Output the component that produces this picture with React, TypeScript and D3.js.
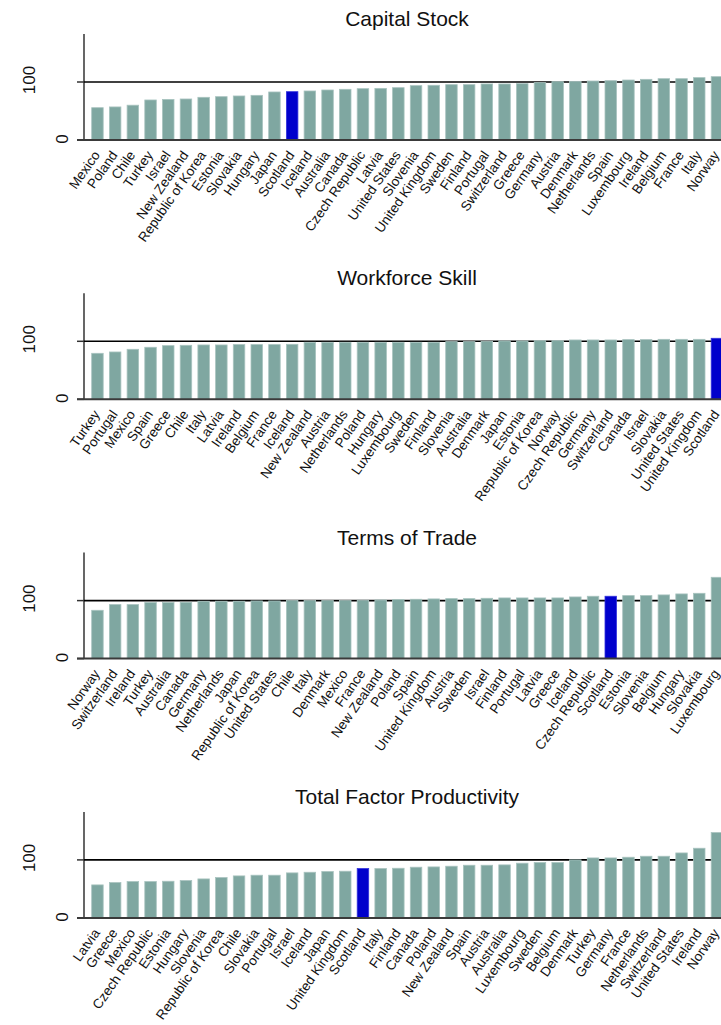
import React from "react";
import * as d3 from "d3";

const capitalCountries = ["Mexico","Poland","Chile","Turkey","Israel","New Zealand","Republic of Korea","Estonia","Slovakia","Hungary","Japan","Scotland","Iceland","Australia","Canada","Czech Republic","Latvia","United States","Slovenia","United Kingdom","Sweden","Finland","Portugal","Switzerland","Greece","Germany","Austria","Denmark","Netherlands","Spain","Luxembourg","Ireland","Belgium","France","Italy","Norway"];
const capitalValues = [55.7,57,60,69,70,70.7,73.6,74.7,75.9,77,82.8,83.3,84.5,86.2,87.4,88.5,89,90.2,93.7,94.3,95.4,95.4,96.6,96.6,97.1,98.9,100.6,101.1,101.7,102.3,103.4,104.6,105.7,105.7,107.5,109.2];

const skillCountries = ["Turkey","Portugal","Mexico","Spain","Greece","Chile","Italy","Latvia","Ireland","Belgium","France","Iceland","New Zealand","Austria","Netherlands","Poland","Hungary","Luxembourg","Sweden","Finland","Slovenia","Australia","Denmark","Japan","Estonia","Republic of Korea","Norway","Czech Republic","Germany","Switzerland","Canada","Israel","Slovakia","United States","United Kingdom","Scotland"];
const skillValues = [79.3,81.6,86.2,89.7,92.5,93.1,93.7,93.7,94.3,94.3,94.3,94.8,98.3,98.3,98.3,98.3,98.3,98.3,98.3,98.3,99.4,99.4,100,100.6,100.6,101.1,101.1,102.3,102.3,102.3,102.9,102.9,103.4,103.4,103.4,105.2];

const tradeCountries = ["Norway","Switzerland","Ireland","Turkey","Australia","Canada","Germany","Netherlands","Japan","Republic of Korea","United States","Chile","Italy","Denmark","Mexico","France","New Zealand","Poland","Spain","United Kingdom","Austria","Sweden","Israel","Finland","Portugal","Latvia","Greece","Iceland","Czech Republic","Scotland","Estonia","Slovenia","Belgium","Hungary","Slovakia","Luxembourg"];
const tradeValues = [83.3,93.1,93.1,96.6,96.6,97.1,98.9,98.9,98.9,99.4,99.4,100,100,100,100,100.6,101.1,101.7,102.3,102.9,103.4,103.4,104,104.6,104.6,104.6,104.6,106.3,107.5,107.5,108.6,108.6,109.8,111.5,112.6,140.2];

const tfpCountries = ["Latvia","Greece","Mexico","Czech Republic","Estonia","Hungary","Slovenia","Republic of Korea","Chile","Slovakia","Portugal","Israel","Iceland","Japan","United Kingdom","Scotland","Italy","Finland","Canada","Poland","New Zealand","Spain","Austria","Australia","Luxembourg","Sweden","Belgium","Denmark","Turkey","Germany","France","Netherlands","Switzerland","United States","Ireland","Norway"];
const tfpValues = [56.9,60.9,62.6,62.6,63.2,64.4,67.2,69.5,72.4,73.6,73.6,77.6,78.7,79.9,80.5,85.1,85.1,85.6,87.4,87.9,89.1,90.8,90.8,91.4,94.3,95.4,95.4,100,103.4,103.4,104.6,106.3,106.3,112,120.1,147.1];

const panelTitles = ["Capital Stock","Workforce Skill","Terms of Trade","Total Factor Productivity"];
const yTicks = [0, 100];
const highlight = "Scotland";

const panels = [
  { title: panelTitles[0], countries: capitalCountries, values: capitalValues },
  { title: panelTitles[1], countries: skillCountries, values: skillValues },
  { title: panelTitles[2], countries: tradeCountries, values: tradeValues },
  { title: panelTitles[3], countries: tfpCountries, values: tfpValues },
];

const W = 721;
const H = 1025;
const PANEL_H = 259.3;
const AXIS_X = 84;
const ZERO_Y = 140;
const TOP_Y = 34;
const FONT = "'Liberation Sans', Arial, Helvetica, sans-serif";
const BAR = "#7fa7a1";
const BAR_EDGE = "#a8c3bf";
const BLUE = "#0000cc";
const LABEL_ANGLE = -55;

function Panel({ p, k }: { p: { title: string; countries: string[]; values: number[] }; k: number }) {
  const step = 17.7;
  const x = d3
    .scaleBand<string>()
    .domain(p.countries)
    .range([AXIS_X, AXIS_X + step * (p.countries.length - 0.35 + 0.87)])
    .paddingInner(0.35)
    .paddingOuter(0.435);
  const y = d3.scaleLinear().domain([0, 100]).range([ZERO_Y, ZERO_Y - 58]);
  const topVal = y.invert(TOP_Y);
  return (
    <g transform={`translate(0,${k * PANEL_H})`}>
      <text x={407} y={26} textAnchor="middle" fontFamily={FONT} fontSize={21} fill="#111">
        {p.title}
      </text>
      <line x1={AXIS_X} x2={AXIS_X} y1={y(topVal)} y2={y(0)} stroke="#000" strokeWidth={1.2} />
      {yTicks.map((t) => (
        <g key={t}>
          <line x1={AXIS_X - 7} x2={AXIS_X} y1={y(t)} y2={y(t)} stroke="#333" strokeWidth={1.5} />
          <text
            transform={`translate(${t === 0 ? 68 : 35},${y(t) - (t === 0 ? 1 : 2)}) rotate(-90)`}
            textAnchor="middle"
            fontFamily={FONT}
            fontSize={17}
            fill="#111"
          >
            {t}
          </text>
        </g>
      ))}
      <line x1={AXIS_X} x2={W} y1={y(100)} y2={y(100)} stroke="#000" strokeWidth={1.6} />
      {p.countries.map((c, i) => (
        <rect
          key={c}
          x={x(c)}
          y={y(p.values[i])}
          width={x.bandwidth()}
          height={y(0) - y(p.values[i])}
          fill={c === highlight ? BLUE : BAR}
          stroke={c === highlight ? "#3333dd" : BAR_EDGE}
          strokeWidth={0.8}
        />
      ))}
      <line x1={AXIS_X - 7} x2={W} y1={y(0)} y2={y(0)} stroke="#3a3a3a" strokeWidth={2} />
      {p.countries.map((c) => (
        <text
          key={c}
          transform={`translate(${(x(c) as number) + x.bandwidth() / 2 + 3},${ZERO_Y + 15}) rotate(${LABEL_ANGLE})`}
          textAnchor="end"
          fontFamily={FONT}
          fontSize={13.5}
          fill="#111"
        >
          {c}
        </text>
      ))}
    </g>
  );
}

export default function App() {
  return (
    <svg
      width={W}
      height={H}
      viewBox={`0 0 ${W} ${H}`}
      style={{ position: "absolute", left: 0, top: 0, background: "#fff", display: "block" }}
    >
      <rect x={0} y={0} width={W} height={H} fill="#fff" />
      {panels.map((p, k) => (
        <Panel key={p.title} p={p} k={k} />
      ))}
    </svg>
  );
}
